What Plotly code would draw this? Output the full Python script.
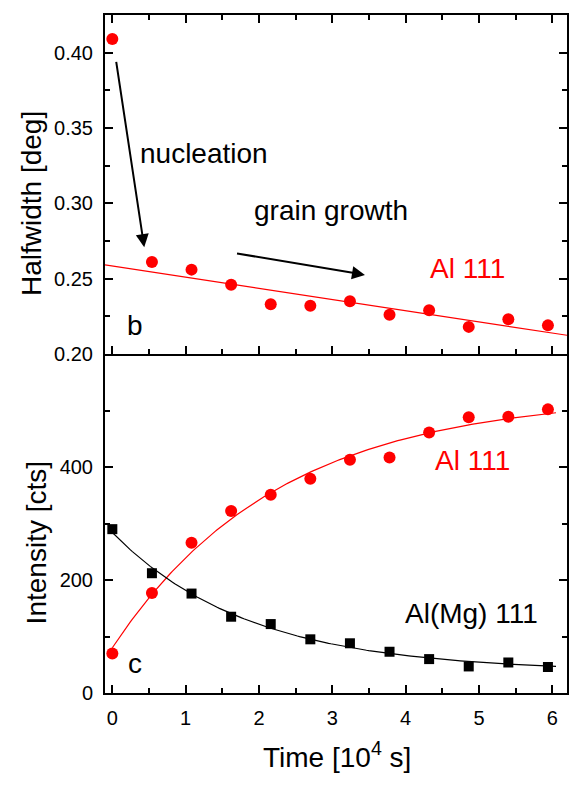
import numpy as np
import plotly.graph_objects as go

# ---- data ----
time_pts = [0.0, 0.54, 1.08, 1.62, 2.16, 2.70, 3.24, 3.78, 4.32, 4.86, 5.40, 5.94]
halfwidth_al111 = [0.409, 0.261, 0.256, 0.246, 0.233, 0.232, 0.235, 0.226, 0.229, 0.218, 0.223, 0.219]
intensity_al111 = [70, 177, 266, 322, 351, 379, 413, 417, 461, 488, 489, 502]
intensity_almg111 = [290, 212, 176, 135, 122, 95, 88, 73, 60, 47, 54, 46]

# arrows in the upper panel (tail -> head), data coordinates
nucleation_arrow_x = [0.05, 0.435]
nucleation_arrow_y = [0.3949, 0.2709]
growth_arrow_x = [1.68, 3.445]
growth_arrow_y = [0.2669, 0.2525]

x_ticks = [0, 1, 2, 3, 4, 5, 6]
hw_ticks = [0.20, 0.25, 0.30, 0.35, 0.40]
int_ticks = [0, 200, 400]

FONT = "Liberation Sans, Arial, Helvetica, sans-serif"
RED = "#ff0000"

t = np.array(time_pts)

# linear fit of halfwidth (excluding the first, nucleation point)
p = np.polyfit(t[1:], np.array(halfwidth_al111[1:]), 1)
xl = np.linspace(-0.1, 6.2, 50)
yl = np.polyval(p, xl)


def exp_fit(x, y):
    best = None
    for tau in np.linspace(0.3, 15, 3000):
        M = np.vstack([np.ones_like(x), np.exp(-x / tau)]).T
        coef, res, *_ = np.linalg.lstsq(M, y, rcond=None)
        r = np.sum((M @ coef - y) ** 2)
        if best is None or r < best[0]:
            best = (r, tau, coef)
    return best[1], best[2]


xc = np.linspace(0, 6.05, 200)
tau_r, c_r = exp_fit(t, np.array(intensity_al111, float))
tau_k, c_k = exp_fit(t, np.array(intensity_almg111, float))
yr = c_r[0] + c_r[1] * np.exp(-xc / tau_r)
yk = c_k[0] + c_k[1] * np.exp(-xc / tau_k)

fig = go.Figure()
# upper panel
fig.add_trace(go.Scatter(x=xl, y=yl, mode="lines", line=dict(color=RED, width=1.2),
                         xaxis="x2", yaxis="y2", showlegend=False, hoverinfo="skip"))
fig.add_trace(go.Scatter(x=time_pts, y=halfwidth_al111, mode="markers",
                         marker=dict(color=RED, size=12, symbol="circle"),
                         xaxis="x2", yaxis="y2", showlegend=False))
# lower panel
fig.add_trace(go.Scatter(x=xc, y=yr, mode="lines", line=dict(color=RED, width=1.2), showlegend=False,
                         hoverinfo="skip"))
fig.add_trace(go.Scatter(x=xc, y=yk, mode="lines", line=dict(color="black", width=1.2), showlegend=False,
                         hoverinfo="skip"))
fig.add_trace(go.Scatter(x=time_pts, y=intensity_al111, mode="markers",
                         marker=dict(color=RED, size=12, symbol="circle"), showlegend=False))
fig.add_trace(go.Scatter(x=time_pts, y=intensity_almg111, mode="markers",
                         marker=dict(color="black", size=10, symbol="square"), showlegend=False))

axis_common = dict(showline=True, linewidth=2, linecolor="black", ticks="inside",
                   ticklen=8, tickwidth=1.5, tickcolor="black", showgrid=False, zeroline=False,
                   tickfont=dict(family=FONT, size=20, color="black"))

fig.update_layout(
    width=573, height=787,
    margin=dict(l=105, r=4, t=15, b=94),
    paper_bgcolor="white", plot_bgcolor="white",
    font=dict(family=FONT, color="black"),
    xaxis=dict(axis_common, domain=[0, 1], anchor="y", range=[-0.1, 6.2],
               tickvals=x_ticks, ticklabelstandoff=6, mirror=False,
               minor=dict(dtick=0.5, tick0=0, ticks="inside", ticklen=5, tickwidth=1.5, tickcolor="black")),
    yaxis=dict(axis_common, domain=[0, 0.5], anchor="x", range=[0, 600],
               tickvals=int_ticks, mirror="ticks", ticklabelstandoff=6,
               minor=dict(tickvals=[100, 300, 500], ticks="inside", ticklen=5, tickwidth=1.5, tickcolor="black")),
    xaxis2=dict(axis_common, domain=[0, 1], anchor="y2", range=[-0.1, 6.2],
                tickvals=x_ticks, showticklabels=False, mirror="ticks",
                minor=dict(dtick=0.5, tick0=0, ticks="inside", ticklen=5, tickwidth=1.5, tickcolor="black")),
    yaxis2=dict(axis_common, domain=[0.5, 1], anchor="x2", range=[0.2, 0.425],
                tickvals=hw_ticks, tickformat=".2f", mirror="ticks", ticklabelstandoff=6,
                minor=dict(dtick=0.025, tick0=0.2, ticks="inside", ticklen=5, tickwidth=1.5, tickcolor="black")),
)

TF = dict(family=FONT, size=28, color="black")
RF = dict(family=FONT, size=28, color=RED)
anns = [
    dict(text="nucleation", x=1.25, y=0.333, xref="x2", yref="y2", font=TF, showarrow=False),
    dict(text="grain growth", x=2.985, y=0.295, xref="x2", yref="y2", font=TF, showarrow=False),
    dict(text="Al 111", x=4.84, y=0.2565, xref="x2", yref="y2", font=RF, showarrow=False),
    dict(text="b", x=0.31, y=0.219, xref="x2", yref="y2", font=TF, showarrow=False),
    dict(text="c", x=0.315, y=52, xref="x", yref="y", font=TF, showarrow=False),
    dict(text="Al 111", x=4.915, y=412, xref="x", yref="y", font=RF, showarrow=False),
    dict(text="Al(Mg) 111", x=4.9, y=141, xref="x", yref="y", font=TF, showarrow=False),
    # axis titles
    dict(text="Halfwidth [deg]", x=-0.159, y=0.722, xref="paper", yref="paper", textangle=-90,
         font=TF, showarrow=False, xanchor="center", yanchor="middle"),
    dict(text="Intensity [cts]", x=-0.148, y=0.2216, xref="paper", yref="paper", textangle=-90,
         font=TF, showarrow=False, xanchor="center", yanchor="middle"),
    dict(text="Time [10<sup>4</sup> s]", x=0.503, y=-0.092, xref="paper", yref="paper",
         font=TF, showarrow=False, xanchor="center", yanchor="middle"),
]
for ax_, ay_ in [(nucleation_arrow_x, nucleation_arrow_y), (growth_arrow_x, growth_arrow_y)]:
    anns.append(dict(text="", x=ax_[1], y=ay_[1], ax=ax_[0], ay=ay_[0], xref="x2", yref="y2",
                     axref="x2", ayref="y2", showarrow=True, arrowhead=2, arrowsize=1.3,
                     arrowwidth=2, arrowcolor="black"))
fig.update_layout(annotations=anns)

fig.write_html("out.html", config={"displayModeBar": False},
               post_script="document.body.style.margin='0';document.body.style.padding='0';")
